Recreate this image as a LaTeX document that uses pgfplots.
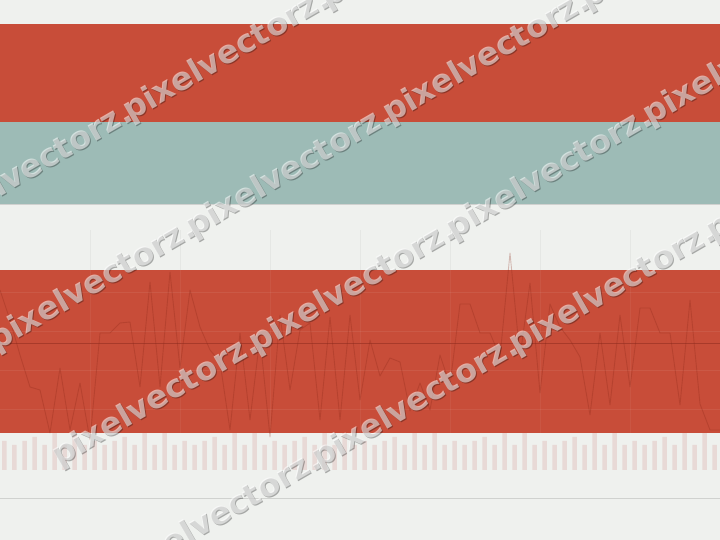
\documentclass[border=0pt]{standalone}
\usepackage{pgfplots}
\usepackage{pgfplotstable}
\usepackage{fontspec}
\pgfplotsset{compat=1.18}
\newfontfamily\wmfont{DejaVu Sans}

\definecolor{bgc}{HTML}{EFF1EE}
\definecolor{redband}{HTML}{C84D39}
\definecolor{tealband}{HTML}{9DBBB6}
\definecolor{barc}{HTML}{E8D9D6}
\definecolor{linec}{HTML}{8A2616}
\definecolor{meanc}{HTML}{A83A2A}
\definecolor{rulec}{HTML}{D0D2CF}

% bar heights, one bar every 10px
\pgfplotstableread{
i h
0 29
1 25
2 29
3 33
4 25
5 60
6 25
7 60
8 25
9 29
10 25
11 29
12 33
13 25
14 60
15 25
16 60
17 25
18 29
19 25
20 29
21 33
22 25
23 60
24 25
25 60
26 25
27 29
28 25
29 29
30 33
31 25
32 60
33 25
34 60
35 25
36 29
37 25
38 29
39 33
40 25
41 60
42 25
43 60
44 25
45 29
46 25
47 29
48 33
49 25
50 60
51 25
52 60
53 25
54 29
55 25
56 29
57 33
58 25
59 60
60 25
61 60
62 25
63 29
64 25
65 29
66 33
67 25
68 60
69 25
70 60
71 25
}\bars

% line series
\pgfplotstableread{
i v
0 180
1 150
2 115
3 83
4 80
5 37
6 102
7 40
8 87
9 30
10 137
11 137
12 147
13 148
14 83
15 188
16 83
17 198
18 102
19 180
20 143
21 120
22 108
23 40
24 137
25 50
26 133
27 33
28 155
29 80
30 140
31 147
32 50
33 153
34 50
35 155
36 70
37 130
38 94
39 112
40 108
41 59
42 87
43 60
44 115
45 85
46 166
47 166
48 137
49 137
50 113
51 217
52 113
53 187
54 77
55 166
56 143
57 130
58 113
59 55
60 137
61 65
62 155
63 83
64 162
65 162
66 137
67 137
68 65
69 170
70 66
71 40
72 40
}\series

\begin{document}
\begin{tikzpicture}
\fill[bgc] (0,0) rectangle (720pt,540pt);
\begin{axis}[
    at={(0pt,0pt)}, anchor=south west,
    width=720pt, height=540pt, scale only axis,
    xmin=0, xmax=72, ymin=-70, ymax=470,
    hide axis,
]
% top bands
\addplot[draw=none, fill=redband] coordinates {(-1,446) (73,446) (73,348) (-1,348)};
\addplot[draw=none, fill=tealband] coordinates {(-1,348) (73,348) (73,266) (-1,266)};
\addplot[color=black!30, opacity=0.5, line width=0.6pt] coordinates {(-1,266) (73,266)};

% bars
\addplot[ybar, bar width=4.5pt, bar shift=4.5pt, fill=barc, draw=none] table[x=i, y=h] {\bars};

% vertical grid above the band
\foreach \g in {9,18,...,63}{
  \edef\tmp{\noexpand\addplot[color=black, opacity=0.04, line width=0.8pt] coordinates {(\g,240) (\g,200)};}
  \tmp
}

% lower band
\addplot[draw=none, fill=redband] coordinates {(-1,200) (73,200) (73,37) (-1,37)};

% grid inside the band
\foreach \g in {9,18,...,63}{
  \edef\tmp{\noexpand\addplot[color=white, opacity=0.05, line width=0.8pt] coordinates {(\g,200) (\g,37)};}
  \tmp
}
\foreach \h in {178,139,100,61}{
  \edef\tmp{\noexpand\addplot[color=white, opacity=0.07, line width=0.8pt] coordinates {(-1,\h) (73,\h)};}
  \tmp
}
\addplot[color=meanc, line width=0.8pt] coordinates {(-1,127) (73,127)};

% line series
\addplot[color=linec, opacity=0.28, line width=0.9pt, line join=round] table[x=i, y=v] {\series};

% bottom rule
\addplot[color=rulec, line width=0.8pt] coordinates {(-1,-28) (73,-28)};
\end{axis}

% watermark
\begin{scope}
\clip (0,0) rectangle (720pt,540pt);
\foreach \r/\kmin in {1/-4,2/-4,3/-1,4/-4}{
  \foreach \k in {\kmin,...,4}{
    \pgfmathsetmacro{\xp}{67+63*\r+197*\k}
    \pgfmathsetmacro{\yq}{540-(45+152*\r-0.5774*\xp)}
    \node[anchor=base west, rotate=30, inner sep=0pt, text=black, opacity=0.3,
          font=\wmfont\bfseries\fontsize{32}{32}\selectfont] at (\xp pt+1pt, \yq pt-1pt) {pixelvectorz.};
    \node[anchor=base west, rotate=30, inner sep=0pt, text=white, opacity=0.55,
          font=\wmfont\bfseries\fontsize{32}{32}\selectfont] at (\xp pt, \yq pt) {pixelvectorz.};
  }
}
\end{scope}
\pgfresetboundingbox
\useasboundingbox (0,0) rectangle (720pt,540pt);
\end{tikzpicture}
\end{document}
